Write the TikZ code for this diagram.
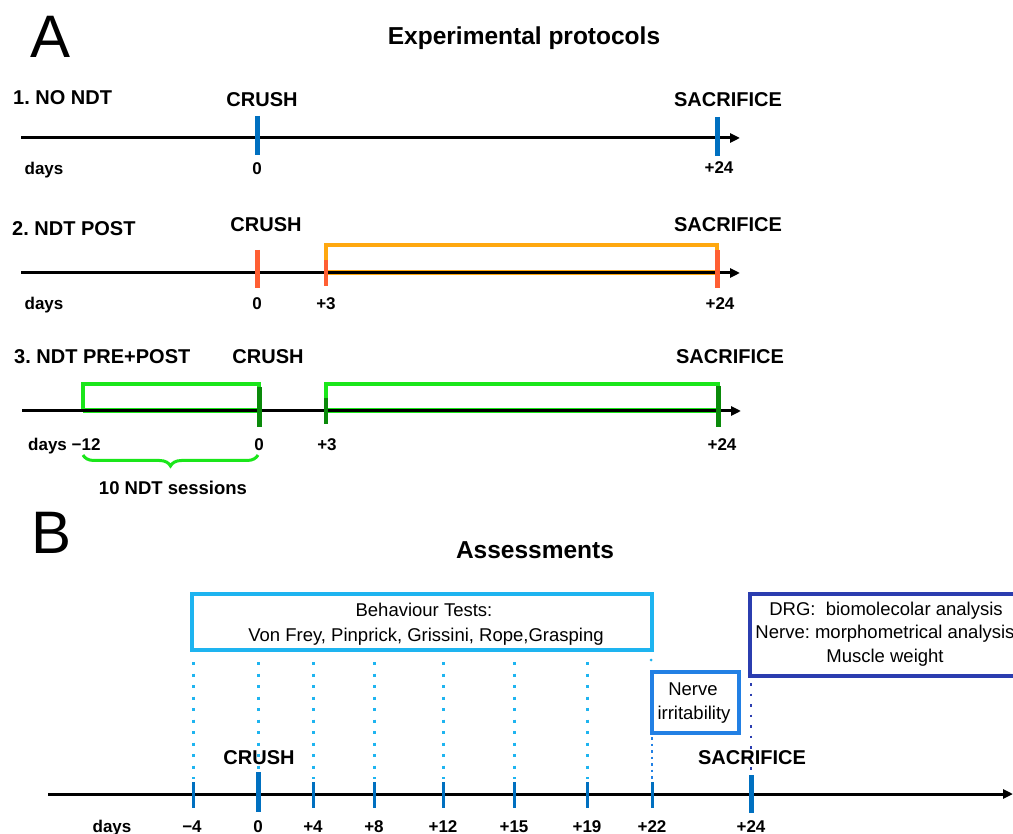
\documentclass[tikz,border=0pt]{standalone}
\usepackage{fontspec}
\setmainfont{Liberation Sans}
\frenchspacing
\usetikzlibrary{arrows.meta,decorations.pathreplacing}
\definecolor{tickblue}{HTML}{0070C0}
\definecolor{orred}{HTML}{FF5F33}
\definecolor{orbr}{HTML}{FFA810}
\definecolor{brgreen}{HTML}{1AE61A}
\definecolor{dkgreen}{HTML}{0A8A0A}
\definecolor{ltblue}{HTML}{1EB4F0}
\definecolor{midblue}{HTML}{2280E4}
\definecolor{dkblue}{HTML}{2B3DAF}
\tikzset{
  lbl/.style={inner sep=0pt, anchor=base, font=\fontsize{20}{24}\selectfont\bfseries},
  daylbl/.style={inner sep=0pt, anchor=base, font=\fontsize{17}{20}\selectfont\bfseries},
  hdr/.style={inner sep=0pt, anchor=base, font=\fontsize{24.5}{28}\selectfont\bfseries},
  bigl/.style={inner sep=0pt, anchor=base, font=\fontsize{60}{70}\selectfont},
  btxt/.style={inner sep=0pt, anchor=base, font=\fontsize{18.5}{22}\selectfont},
  axis/.style={line width=3pt, -{Triangle[length=10pt,width=9pt]}},
  tickA/.style={line width=5pt},
  brk/.style={line width=4pt},
  tickB/.style={line width=3pt, tickblue},
  tickBB/.style={line width=5pt, tickblue},
  dotline/.style={line width=3pt, ltblue, dash pattern=on 3pt off 8.5pt},
  boxr/.style={draw, line width=3.5pt, inner sep=0pt},
}
\begin{document}
\begin{tikzpicture}[x=1pt,y=-1pt]
\useasboundingbox (0,0) rectangle (1013,834);
\clip (0,0) rectangle (1013,834);
\fill[white] (0,0) rectangle (1013,834);

% ===== Panel A =====
\node[bigl] (A) at (51,58) {A};
\node[hdr] (hA) at (524,45) {Experimental protocols};

% Row 1
\node[lbl, anchor=base west] (r1) at (13,105) {1. NO NDT};
\node[lbl] (c1) at (262,107) {CRUSH};
\node[lbl] (s1) at (728,107) {SACRIFICE};
\coordinate (a1s) at (21,138);
\coordinate (a1e) at (740,138);
\draw[axis] (a1s) -- (a1e);
\draw[tickA, tickblue] (257,116) -- (257,155);
\draw[tickA, tickblue] (717,117) -- (717,156);
\node[daylbl] (d1) at (44,175) {days};
\node[daylbl] (d1a) at (257,175) {0};
\node[daylbl] (d1b) at (719,174) {+24};

% Row 2
\node[lbl, anchor=base west] (r2) at (12,236) {2. NDT POST};
\node[lbl] (c2) at (266,232) {CRUSH};
\node[lbl] (s2) at (728,232) {SACRIFICE};
\draw[line width=5pt, orbr] (326,273) -- (717,273);
\draw[brk, orbr] (326,273) -- (326,245) -- (717,245) -- (717,273);
\coordinate (a2s) at (21,273);
\coordinate (a2e) at (740,273);
\draw[axis] (a2s) -- (a2e);
\draw[tickA, orred] (257,250) -- (257,288);
\draw[line width=4pt, orred] (326,260) -- (326,286);
\draw[tickA, orred] (717,250) -- (717,288);
\node[daylbl] (d2) at (44,310) {days};
\node[daylbl] (d2a) at (257,310) {0};
\node[daylbl] (d2b) at (326,310) {+3};
\node[daylbl] (d2c) at (720,310) {+24};

% Row 3
\node[lbl, anchor=base west] (r3) at (14,364) {3. NDT PRE+POST};
\node[lbl] (c3) at (268,364) {CRUSH};
\node[lbl] (s3) at (730,364) {SACRIFICE};
\draw[line width=5pt, brgreen] (83,411) -- (259,411);
\draw[line width=5pt, brgreen] (326,411) -- (718,411);
\draw[brk, brgreen] (83,411) -- (83,384) -- (259,384) -- (259,411);
\draw[brk, brgreen] (326,411) -- (326,384) -- (718,384) -- (718,411);
\coordinate (a3s) at (22,411);
\coordinate (a3e) at (741,411);
\draw[axis] (a3s) -- (a3e);
\draw[tickA, dkgreen] (259,387) -- (259,427);
\draw[line width=4pt, dkgreen] (326,398) -- (326,424);
\draw[tickA, dkgreen] (718,386) -- (718,427);
\node[daylbl, anchor=base west] (d3) at (28,450) {days −12};
\node[daylbl] (d3a) at (259,450) {0};
\node[daylbl] (d3b) at (327,450) {+3};
\node[daylbl] (d3c) at (722,450) {+24};
\draw[decorate, decoration={brace, mirror, amplitude=11pt}, line width=3pt, brgreen] (83,455) -- (258,455);
\node[daylbl, font=\fontsize{18.5}{22}\selectfont\bfseries] (ses) at (173,494) {10 NDT sessions};

% ===== Panel B =====
\node[bigl] (B) at (52,553) {B};
\node[hdr] (hB) at (535,558) {Assessments};

% boxes
\node[boxr, draw=ltblue, minimum width=460pt, minimum height=56pt] (bt) at (422,622) {};
\node[btxt] (bt1) at (424,616) {Behaviour Tests:};
\node[btxt] (bt2) at (426,641) {Von Frey, Pinprick, Grissini, Rope,Grasping};

\node[boxr, draw=dkblue, minimum width=280pt, minimum height=82pt] (drg) at (890,635) {};
\node[btxt] (drg1) at (886,615) {DRG:\ \ biomolecolar analysis};
\node[btxt] (drg2) at (885,638) {Nerve: morphometrical analysis};
\node[btxt] (drg3) at (885,662) {Muscle weight};

\node[boxr, draw=midblue, minimum width=87pt, minimum height=61pt] (ni) at (695.5,702.5) {};
\node[btxt] (ni1) at (693,695) {Nerve};
\node[btxt] (ni2) at (694,719) {irritability};

% dotted guides
\foreach \x in {193,258,313,374,443,514,587}
  \draw[dotline] (\x,662) -- (\x,779);
\fill[ltblue] (651,660) circle (1.5pt);
\draw[line width=2.5pt, midblue, dash pattern=on 2.5pt off 4pt] (652,737) -- (652,779);
\draw[line width=2.5pt, dkblue, dash pattern=on 2.5pt off 8pt] (751,683) -- (751,774);

% axis B
\coordinate (abs) at (48,794);
\coordinate (abe) at (1013,794);
\draw[axis] (abs) -- (abe);
\foreach \x in {193,313,374,443,514,587,652}
  \draw[tickB] (\x,782) -- (\x,808);
\draw[tickBB] (258,772) -- (258,812);
\draw[tickBB] (751,775) -- (751,813);

\node[lbl] (cB) at (259,764) {CRUSH};
\node[lbl] (sB) at (752,764) {SACRIFICE};

\node[daylbl] (dB) at (112,832) {days};
\node[daylbl] (dB1) at (192,832) {−4};
\node[daylbl] (dB2) at (258,832) {0};
\node[daylbl] (dB3) at (313,832) {+4};
\node[daylbl] (dB4) at (374,832) {+8};
\node[daylbl] (dB5) at (443,832) {+12};
\node[daylbl] (dB6) at (514,832) {+15};
\node[daylbl] (dB7) at (587,832) {+19};
\node[daylbl] (dB8) at (652,832) {+22};
\node[daylbl] (dB9) at (751,832) {+24};
\end{tikzpicture}
\end{document}
